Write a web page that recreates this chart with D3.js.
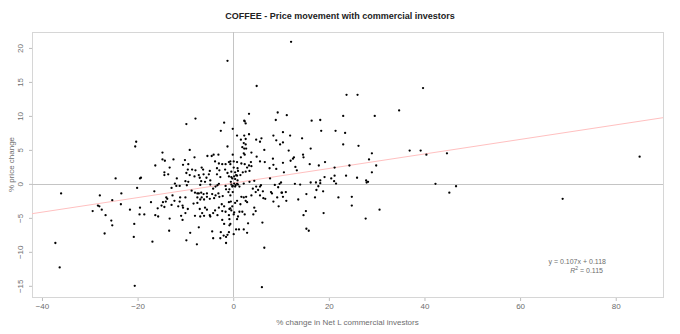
<!DOCTYPE html>
<html>
<head>
<meta charset="utf-8">
<script src="https://cdn.jsdelivr.net/npm/d3@7/dist/d3.min.js"></script>
<style>
  html, body { margin: 0; padding: 0; background: #ffffff; }
  svg { display: block; font-family: "Liberation Sans", Arial, sans-serif; }
</style>
</head>
<body>
<svg id="chart" width="680" height="334"></svg>
<script>
// Weekly observations: [% change in net long commercial positions, % price change]
const observations = [
  [-1.2,18.1],[12.1,20.9],[23.7,13.1],[26.0,13.1],[4.9,14.4],[3.3,10.3],[9.3,10.5],[11.2,10.1],[23.0,10.0],[29.6,10.0],
  [8.9,9.4],[16.4,9.3],[18.2,9.4],[2.3,9.3],
  [-7.9,9.6],[-9.8,8.8],[-1.9,9.0],[-2.6,7.8],[-0.1,8.1],[-1.2,5.5],[-9.1,5.0],[-14.8,4.6],[-14.8,3.6],[-14.3,3.4],
  [-12.5,3.6],[-10.1,3.5],[-8.1,3.9],[-5.4,4.1],[-4.5,4.1],[-4.1,4.3],[-3.1,4.3],[-3.8,3.3],[-3.0,3.0],[-2.3,2.9],
  [-1.6,2.9],[-0.9,3.2],[-0.6,2.9],[0.1,3.3],[-16.3,2.7],[-13.3,2.4],[-10.5,2.8],[-9.4,2.9],[-9.5,2.1],[-8.6,2.1],
  [-7.9,2.0],[-6.6,2.4],[-6.3,2.1],[-4.9,1.9],[-3.4,2.3],[-2.9,2.0],[-1.7,2.1],[-1.2,1.6],[-0.4,1.8],[-14.4,1.7],
  [-14.4,1.3],[-13.6,1.4],[-9.8,1.6],[-9.1,1.3],[-8.1,1.1],[-7.2,1.3],[-7.0,0.9],[-6.2,1.4],[-5.6,0.9],[-5.1,1.4],
  [-3.4,1.4],[-2.7,1.0],[-0.9,1.1],[-0.2,0.8],[0.6,1.3],[-19.3,0.9],[-11.8,0.8],[-10.0,0.4],[-9.4,0.3],[-6.7,0.4],
  [-5.9,0.3],[-4.8,0.5],[-12.2,0.05],[-11.9,-0.3],[-11.2,-0.3],[-9.7,-0.2],[-6.9,-0.15],[-3.0,0.0],[-0.4,-0.1],
  [-0.2,-0.4],[0.4,-0.4],[-1.6,-0.3],
  [2.4,9.2],[2.6,8.9],[18.4,7.8],[10.4,7.6],[0.8,7.1],[2.3,7.1],[3.3,7.3],[2.6,6.6],[1.6,6.5],[4.8,6.5],[5.6,6.2],
  [5.9,6.7],[8.4,7.1],[9.0,6.4],[10.4,6.1],[11.9,7.1],[14.4,6.7],[2.2,6.0],[2.6,5.8],[9.8,5.8],[1.9,5.4],[2.3,5.2],
  [2.7,5.2],[6.5,5.0],[11.6,4.9],[16.2,5.2],[2.2,4.5],[2.4,4.3],[3.8,4.6],[-0.1,4.3],[14.6,4.3],[14.7,3.9],[1.6,3.9],
  [4.9,4.0],[12.7,3.9],[12.5,3.7],[12.0,3.4],[8.3,3.7],[-0.6,3.3],[0.8,3.2],[3.7,3.2],[5.6,3.3],[6.6,3.2],[10.4,3.1],
  [1.7,3.0],[2.4,2.9],[3.3,2.7],[3.8,2.6],[8.4,2.8],[13.0,2.5],[2.9,2.4],[7.6,2.3],[9.0,2.2],[0.1,2.4],[0.9,2.3],
  [17.9,2.7],[0.4,1.7],[1.0,1.9],[2.0,1.7],[2.6,1.8],[3.4,1.9],[1.5,1.3],[0.8,1.2],[0.2,1.1],[-0.4,1.0],[0.4,0.7],
  [0.9,0.5],[13.3,2.0],[-0.5,0.3],[0.2,0.05],[0.8,0.0],[2.2,0.05],[3.4,0.3],[4.4,0.45],[7.7,0.8],[8.7,-0.15],
  [9.7,0.0],[10.0,0.2],[12.9,0.0],[14.0,-0.1],[16.2,0.2],[17.3,0.2],[18.2,0.1],[19.1,1.0],[5.8,-0.2],
  [39.7,14.1],[34.7,10.8],[21.4,7.8],[23.4,7.5],[23.0,5.8],[26.2,5.6],[16.0,2.9],[19.2,3.2],[29.0,4.5],[28.4,3.6],
  [29.9,2.7],[29.0,1.7],[24.3,2.7],[21.2,2.4],[36.9,4.9],[39.2,4.9],[40.4,4.3],[44.7,4.5],[10.6,1.7],[18.2,0.5],
  [20.5,0.8],[21.2,1.2],[21.1,0.4],[21.5,0.05],[23.6,1.2],[25.9,0.9],[27.8,0.5],[27.9,0.2],[28.2,0.3],[42.3,0.0],
  [45.2,-1.3],[46.6,-0.35],[10.1,-1.3],[11.0,-1.2],[10.4,-1.9],[11.1,-2.5],[13.6,-2.3],[15.3,-1.5],[17.1,-2.0],
  [17.8,-0.35],[17.4,-0.9],[18.8,-1.1],[22.0,-2.0],[24.8,-1.9],[24.8,-3.2],[30.6,-3.8],[15.2,-4.0],[14.7,-4.6],
  [18.9,-4.3],[27.7,-5.1],[15.3,-6.6],[15.8,-6.9],
  [-0.1,-0.3],[0.5,-0.2],[1.0,-0.1],[1.3,-0.4],[4.1,-0.7],[4.8,-0.4],[5.6,-0.4],[5.2,-0.9],[4.7,-1.2],[3.8,-1.7],
  [6.2,-1.1],[5.6,-1.7],[6.3,-2.1],[6.7,-2.2],[7.9,-1.2],[8.1,-1.4],[9.4,-0.5],[9.2,-2.0],[10.2,-1.3],[8.4,-2.6],
  [9.5,-3.3],[-0.6,-3.6],[-0.4,-3.9],[0.2,-4.2],[0.1,-4.5],[0.8,-2.5],[0.4,-2.8],[1.7,-1.9],[2.2,-2.0],[2.7,-1.9],
  [2.6,-2.5],[2.9,-2.7],[1.5,-3.0],[1.3,-4.1],[1.9,-4.1],[2.4,-4.5],[1.0,-4.8],[0.8,-5.2],[4.4,-3.5],[4.7,-4.0],
  [4.2,-4.5],[3.1,-5.8],[6.1,-5.7],[0.6,-6.7],[1.2,-6.7],[2.2,-6.7],[2.9,-7.2],[0.1,-7.4],[6.5,-9.4],[6.0,-15.2],
  [-12.9,-0.6],[-8.7,-1.0],[-4.8,-0.1],[-4.2,-0.7],[-3.7,-0.4],[-3.3,-0.2],[-16.5,-1.1],[-12.7,-1.7],[-11.1,-2.0],
  [-10.0,-2.0],[-12.3,-2.5],[-11.2,-2.6],[-13.8,-2.2],[-14.1,-2.6],[-14.7,-2.7],[-15.0,-3.2],[-14.4,-3.4],[-12.9,-3.1],
  [-10.6,-3.2],[-8.0,-1.3],[-7.5,-1.4],[-7.2,-1.4],[-6.7,-1.3],[-6.2,-1.5],[-5.5,-1.4],[-7.5,-2.0],[-6.9,-2.3],
  [-6.6,-2.0],[-6.1,-2.3],[-5.5,-1.9],[-4.9,-2.2],[-4.4,-1.5],[-4.0,-2.1],[-3.7,-1.7],[-3.1,-1.4],[-2.9,-1.9],
  [-2.2,-1.8],[-1.5,-0.8],[-1.0,-1.2],[-0.8,-0.8],[-0.6,-1.7],[-0.1,-1.2],[-11.5,-3.3],[-10.5,-3.5],[-9.5,-3.7],
  [-8.3,-2.9],[-7.5,-2.8],[-7.0,-3.7],[-5.9,-3.5],[-5.5,-3.8],[-6.5,-4.3],[-6.1,-4.7],[-4.9,-4.6],[-4.2,-4.3],
  [-3.3,-4.6],[-3.8,-3.9],[-3.0,-3.5],[-2.4,-3.0],[-1.9,-3.3],[-2.3,-4.0],[-1.6,-4.1],[-0.9,-2.7],[-0.5,-2.6],
  [-0.2,-3.3],[-0.8,-3.7],[-0.9,-4.6],[-18.6,-4.5],[-16.3,-4.6],[-15.7,-4.8],[-13.3,-5.1],[-10.9,-4.7],[-10.6,-5.3],
  [-10.0,-4.3],[-8.0,-4.7],[-6.9,-4.8],[-4.8,-4.8],[-2.3,-5.3],[-1.9,-5.9],[-0.8,-5.2],[-0.6,-5.9],[-7.2,-6.4],
  [-13.4,-6.9],[-9.0,-7.2],[-4.4,-7.0],[-2.6,-7.1],[-2.0,-7.6],[-2.7,-8.0],[-1.5,-7.8],[-1.2,-7.5],[-0.9,-7.1],
  [-0.8,-6.1],[-1.5,-8.7],[-9.8,-8.3],[-7.6,-8.9],[-16.9,-8.5],[-4.2,-8.0],
  [-36.0,-1.4],[-37.2,-8.7],[-36.3,-12.3],[-27.9,-1.7],[-29.4,-4.0],[-28.3,-3.2],[-28.0,-3.3],[-27.5,-3.8],
  [-26.7,-4.6],[-26.9,-7.3],[-25.5,-5.4],[-25.3,-6.1],[-25.3,-2.4],[-24.6,0.8],[-23.4,-1.4],[-23.5,-3.0],[-21.6,-3.8],
  [-20.3,6.2],[-20.5,5.5],[-19.5,0.8],[-20.1,-0.6],[-19.5,-3.5],[-19.6,-4.5],[-20.7,-5.9],[-20.8,-7.8],[-17.2,-2.7],
  [-15.8,-3.6],[-14.0,-2.0],[-20.6,-15.0],
  [68.9,-2.2],[85.0,4.0]
];

// Fitted linear model
const slope = 0.107;
const intercept = 0.118;
const rSquared = 0.115;

const xTicks = [-40, -20, 0, 20, 40, 60, 80];
const yTicks = [-15, -10, -5, 0, 5, 10, 15, 20];

const titleText = "COFFEE - Price movement with commercial investors";
const xTitle = "% change in Net L commercial investors";
const yTitle = "% price change";

const plot = { left: 32, right: 663, top: 32, bottom: 297 };

const svg = d3.select("#chart");

// Data range padded by 4% on each side
function padded(ext) {
  const d = (ext[1] - ext[0]) * 0.04;
  return [ext[0] - d, ext[1] + d];
}
const x = d3.scaleLinear()
  .domain(padded(d3.extent(observations, d => d[0])))
  .range([plot.left, plot.right]);
const y = d3.scaleLinear()
  .domain(padded(d3.extent(observations, d => d[1])))
  .range([plot.bottom, plot.top]);

const grey = "#6e6e6e";

// Plot frame
svg.append("rect")
  .attr("x", plot.left + 0.5).attr("y", plot.top + 0.5)
  .attr("width", plot.right - plot.left).attr("height", plot.bottom - plot.top)
  .attr("fill", "none").attr("stroke", "#d6d6d6").attr("stroke-width", 1);

// Reference lines at zero
svg.append("line")
  .attr("x1", Math.round(x(0)) + 0.5).attr("x2", Math.round(x(0)) + 0.5)
  .attr("y1", plot.top).attr("y2", plot.bottom)
  .attr("stroke", "#c4c4c4").attr("stroke-width", 1);
svg.append("line")
  .attr("x1", plot.left).attr("x2", plot.right)
  .attr("y1", Math.round(y(0)) + 0.5).attr("y2", Math.round(y(0)) + 0.5)
  .attr("stroke", "#c4c4c4").attr("stroke-width", 1);

// Regression line across the plotting region
const [x0, x1] = x.domain();
svg.append("line")
  .attr("x1", x(x0)).attr("y1", y(slope * x0 + intercept))
  .attr("x2", x(x1)).attr("y2", y(slope * x1 + intercept))
  .attr("stroke", "#ffc0c0").attr("stroke-width", 1);

// Axes
const xAxis = svg.append("g")
  .attr("transform", `translate(0,${plot.bottom + 1})`)
  .call(d3.axisBottom(x).tickValues(xTicks).tickSize(3).tickPadding(2).tickSizeOuter(0).tickFormat(d3.format("d")));
xAxis.select(".domain").remove();
xAxis.selectAll(".tick line").attr("stroke", "#bdbdbd");
xAxis.selectAll(".tick text").attr("fill", grey).attr("font-size", 8);

const yAxis = svg.append("g")
  .attr("transform", `translate(${plot.left},0)`)
  .call(d3.axisLeft(y).tickValues(yTicks).tickSize(3).tickSizeOuter(0).tickFormat(d3.format("d")));
yAxis.select(".domain").remove();
yAxis.selectAll(".tick line").attr("stroke", "#bdbdbd");
yAxis.selectAll(".tick text")
  .attr("fill", grey).attr("font-size", 8)
  .attr("text-anchor", "middle")
  .attr("x", 0).attr("dy", 0)
  .attr("transform", "translate(-9,0) rotate(-90)");

// Points
svg.append("g").selectAll("circle")
  .data(observations)
  .join("circle")
  .attr("cx", d => x(d[0]))
  .attr("cy", d => y(d[1]))
  .attr("r", 1.15)
  .attr("fill", "#000");

// Titles
svg.append("text")
  .attr("x", 340).attr("y", 19)
  .attr("text-anchor", "middle")
  .attr("font-size", 9).attr("font-weight", "bold").attr("fill", "#222")
  .text(titleText);

svg.append("text")
  .attr("x", (plot.left + plot.right) / 2).attr("y", 325)
  .attr("text-anchor", "middle")
  .attr("font-size", 8).attr("fill", grey)
  .text(xTitle);

svg.append("text")
  .attr("transform", `translate(14,${(plot.top + plot.bottom) / 2}) rotate(-90)`)
  .attr("text-anchor", "middle")
  .attr("font-size", 8).attr("fill", grey)
  .text(yTitle);

// Model annotation
const eq = svg.append("g").attr("font-size", 7).attr("fill", grey);
eq.append("text")
  .attr("x", 606).attr("y", 264)
  .attr("text-anchor", "end")
  .text(`y = ${slope}x + ${intercept}`);
const r2 = eq.append("text")
  .attr("x", 603).attr("y", 273)
  .attr("text-anchor", "end");
r2.append("tspan").attr("font-style", "italic").text("R");
r2.append("tspan").attr("font-size", 5).attr("dy", -3).text("2");
r2.append("tspan").attr("dy", 3).text(` = ${rSquared}`);
</script>
</body>
</html>
